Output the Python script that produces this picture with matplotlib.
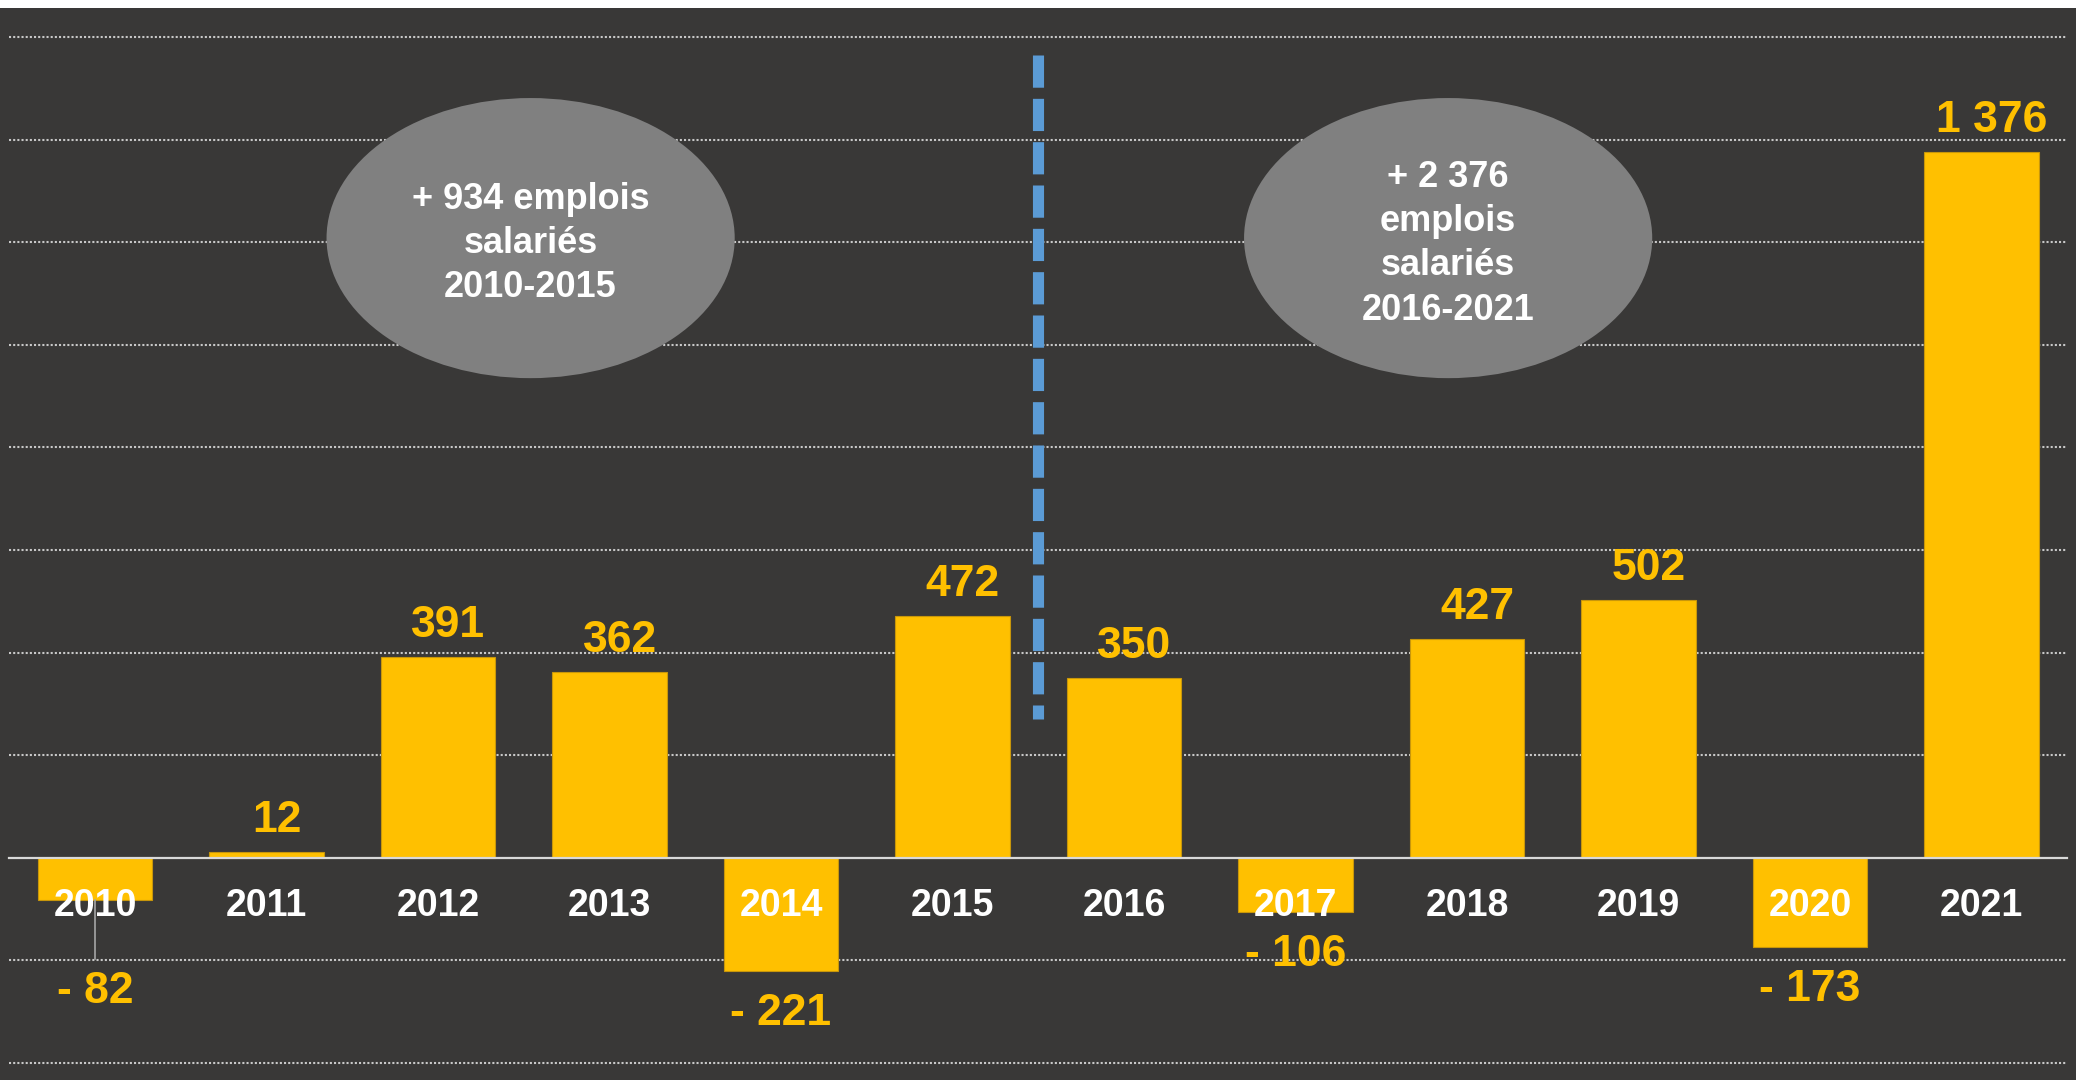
import matplotlib
matplotlib.use("Agg")
from matplotlib import pyplot as plt
from matplotlib.patches import Ellipse
import numpy as np

years = ["2010", "2011", "2012", "2013", "2014", "2015",
         "2016", "2017", "2018", "2019", "2020", "2021"]
values = [-82, 12, 391, 362, -221, 472, 350, -106, 427, 502, -173, 1376]
labels = ["- 82", "12", "391", "362", "- 221", "472",
          "350", "- 106", "427", "502", "- 173", "1 376"]
period_texts = ["+ 934 emplois\nsalariés\n2010-2015",
                "+ 2 376\nemplois\nsalariés\n2016-2021"]

plt.rcParams['font.family'] = ['Liberation Sans', 'DejaVu Sans']

BG = "#393837"
YELLOW = "#FFC000"

fig = plt.figure(figsize=(20.76, 10.8), dpi=100, facecolor="white")
ax = fig.add_axes([0, 0, 1, 1072 / 1080])
ax.set_facecolor(BG)
for s in ax.spines.values():
    s.set_visible(False)
ax.set_xticks([])
ax.set_yticks([])

x = np.arange(len(years))
ax.set_xlim(-0.554, 11.551)
ax.set_ylim(-433, 1656.5)

# gridlines
for g in range(-400, 1601, 200):
    if g == 0:
        continue
    ax.plot([-0.5, 11.5], [g, g], color="#C8C8C8", lw=1.5,
            linestyle=(0, (1, 1)), zorder=1)

ax.bar(x, values, width=0.665, color=YELLOW, edgecolor="#C8960A",
       linewidth=0.8, zorder=2)
ax.plot([-0.5, 11.5], [0, 0], color="#D9D9D9", lw=1.6, zorder=3)

# value labels
for i, (v, lab) in enumerate(zip(values, labels)):
    if v >= 0:
        ax.annotate(lab, xy=(i, v), xytext=(7.5, 14.5), textcoords="offset points",
                    ha="center", va="baseline", color=YELLOW,
                    fontsize=32, fontweight="bold", zorder=5)
    elif v > -100:
        # small negative bar: label pushed below with a leader line
        ax.plot([i, i], [v, -197], color="#A6A6A6", lw=1.2, zorder=4)
        ax.annotate(lab, xy=(i, -197), xytext=(0, -9), textcoords="offset points",
                    ha="center", va="top", color=YELLOW,
                    fontsize=32, fontweight="bold", zorder=5)
    else:
        ax.annotate(lab, xy=(i, v), xytext=(0, -16), textcoords="offset points",
                    ha="center", va="top", color=YELLOW,
                    fontsize=32, fontweight="bold", zorder=5)

# year labels
for i, yr in enumerate(years):
    ax.annotate(yr, xy=(i, 0), xytext=(0, -34.5), textcoords="offset points",
                ha="center", va="center", color="white",
                fontsize=27, fontweight="bold", zorder=6)

# separator between periods
ax.plot([5.5, 5.5], [1565, 270], color="#5B9BD5", lw=8,
        linestyle=(0, (2.9, 1.0)), solid_capstyle="butt",
        dash_capstyle="butt", zorder=4)

# period ellipses
for cx, txt in zip([2.54, 7.89], period_texts):
    ax.add_patch(Ellipse((cx, 1208), width=2.38, height=546,
                         facecolor="#808080", edgecolor="none", zorder=4))
    ax.text(cx, 1197, txt, ha="center", va="center", color="white",
            fontsize=26, fontweight="bold", linespacing=1.34, zorder=5)

fig.savefig("out.png", dpi=100, facecolor="white")
